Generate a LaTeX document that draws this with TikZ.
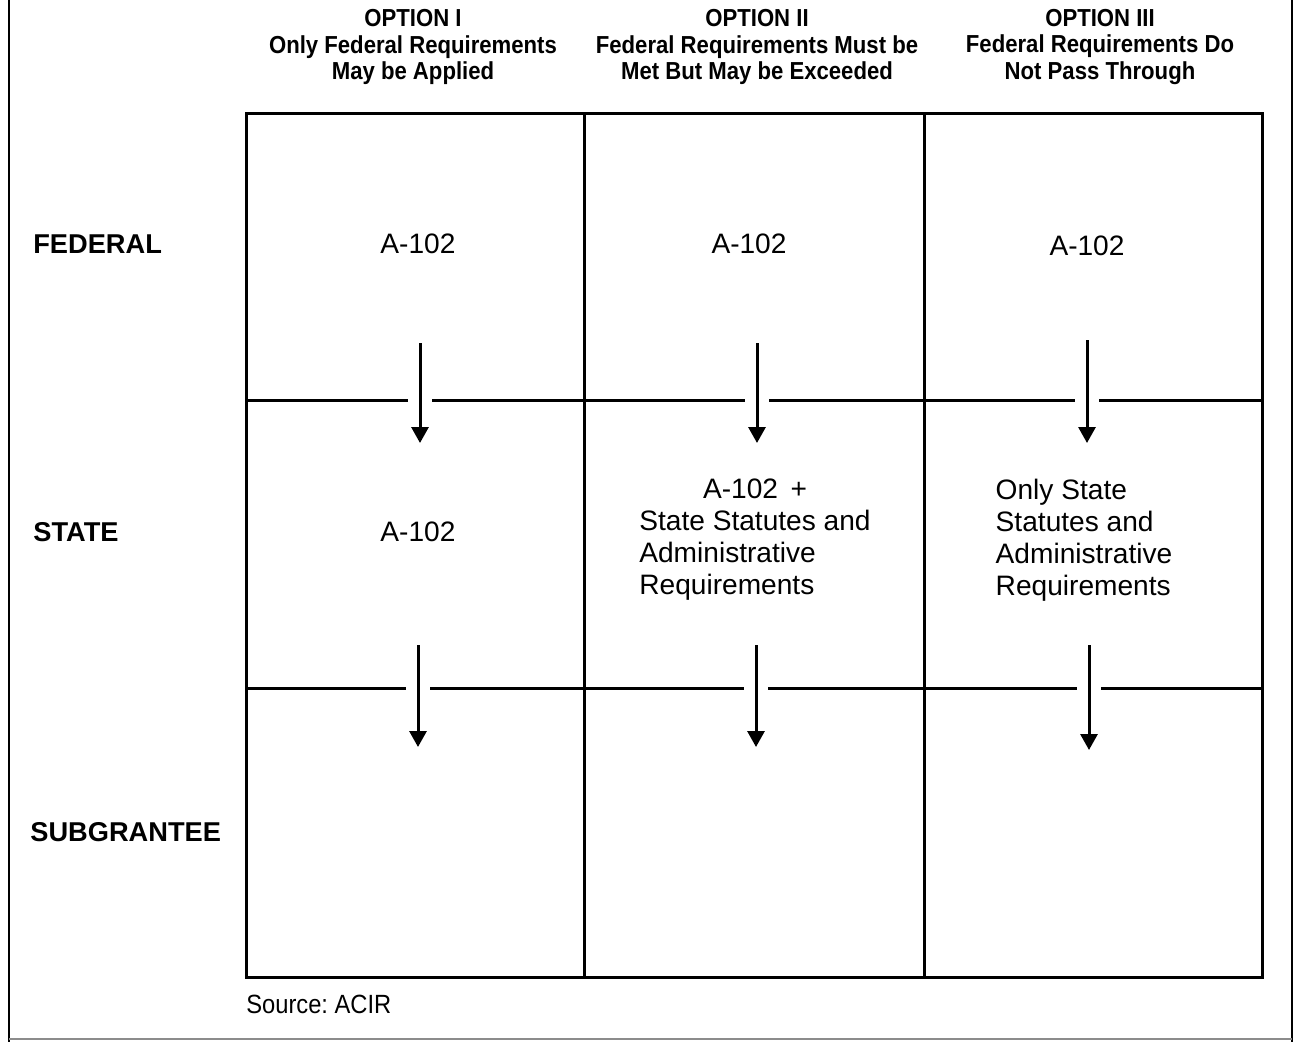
\documentclass[tikz,border=0pt]{standalone}
\usepackage{fontspec}
\setmainfont{Liberation Sans}
\newfontfamily\headfont[FakeStretch=0.9]{Liberation Sans}
\usetikzlibrary{arrows.meta}

\tikzset{
  grid line/.style={line width=0.06cm},
  pass/.style={line width=0.06cm, -{Triangle[width=0.34cm,length=0.32cm]},
    preaction={draw=white, line width=0.48cm, -}},
  level/.style={anchor=west, inner sep=0pt, font=\fontsize{15.5}{18}\selectfont\bfseries},
  cell/.style={font=\fontsize{16}{18.2}\selectfont, inner sep=0pt},
  option/.style={align=center, inner sep=0pt,
    font=\headfont\bfseries\fontsize{14}{15.1}\selectfont},
}

\begin{document}
\frenchspacing
\begin{tikzpicture}[x=0.02cm, y=-0.02cm]
            \useasboundingbox (0,0) rectangle (1295,1042);

            % frame round the figure
            \draw[line width=0.06cm] (9,0) -- (9,1042);
            \draw[line width=0.05cm] (1292,0) -- (1292,1042);
            \draw[line width=0.03cm, black!45] (9,1039) -- (1292,1039);

            % headings
            \node[option] (opt1) at (413,47) {OPTION I\\Only Federal Requirements\\May be Applied};
            \node[option] (opt2) at (757,47) {OPTION II\\Federal Requirements Must be\\Met But May be Exceeded};
            \node[option] (opt3) at (1100,47) {OPTION III\\Federal Requirements Do\\Not Pass Through};

            % the grid
            \draw[grid line] (246,113) rectangle (1262,977);
            \draw[grid line] (584,113) -- (584,977);
            \draw[grid line] (924,113) -- (924,977);
            \draw[grid line] (246,400) -- (1262,400);
            \draw[grid line] (246,688) -- (1262,688);

            % levels
            \node[level] (lblfed) at (33,244) {FEDERAL};
            \node[level] (lblsta) at (33,532) {STATE};
            \node[level] (lblsub) at (30,832) {SUBGRANTEE};

            % requirements in the cells
            \node[cell] (fed1) at (418,244) {A-102};
            \node[cell] (fed2) at (749,244) {A-102};
            \node[cell] (fed3) at (1087,246) {A-102};
            \node[cell] (sta1) at (418,532) {A-102};
            \node[cell] (sta2) at (755,540) {\begin{tabular}{@{}l@{}}\multicolumn{1}{@{}c@{}}{A-102 \,+}\\State Statutes and\\Administrative\\Requirements\end{tabular}};
            \node[cell, align=left] (sta3) at (1084,540) {Only State\\Statutes and\\Administrative\\Requirements};

            % arrow ends
            \coordinate (a1top) at (420,343);
            \coordinate (a1bot) at (420,443);
            \coordinate (a2top) at (757,343);
            \coordinate (a2bot) at (757,443);
            \coordinate (a3top) at (1087,340);
            \coordinate (a3bot) at (1087,443);
            \coordinate (b1top) at (418,645);
            \coordinate (b1bot) at (418,747);
            \coordinate (b2top) at (756,645);
            \coordinate (b2bot) at (756,747);
            \coordinate (b3top) at (1089,645);
            \coordinate (b3bot) at (1089,750);

            \draw[pass] (a1top) -- (a1bot);
            \draw[pass] (a2top) -- (a2bot);
            \draw[pass] (a3top) -- (a3bot);
            \draw[pass] (b1top) -- (b1bot);
            \draw[pass] (b2top) -- (b2bot);
            \draw[pass] (b3top) -- (b3bot);

            \node[anchor=west, inner sep=0pt, font=\headfont\fontsize{15}{17}\selectfont] (src) at (246,1004) {Source: ACIR};

        \end{tikzpicture}
\end{document}
